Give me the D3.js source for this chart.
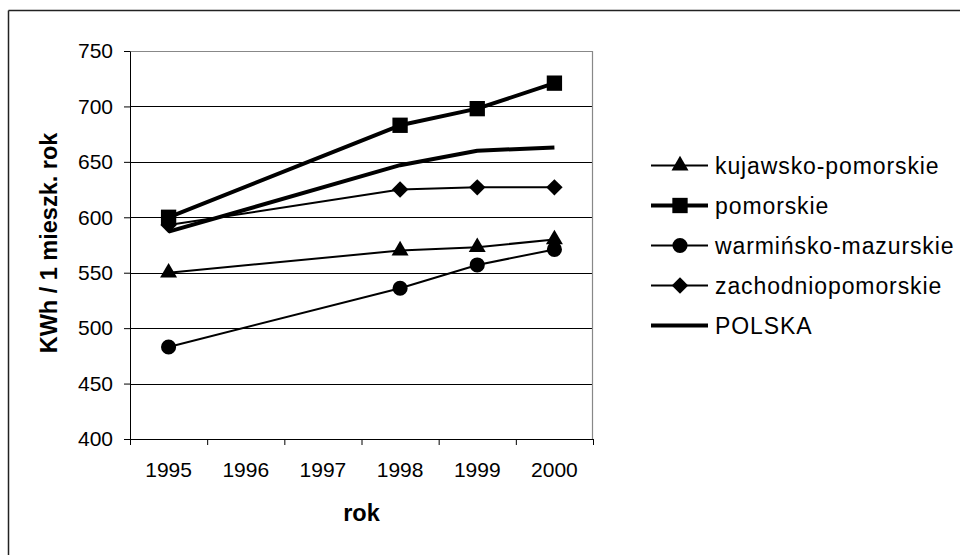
<!DOCTYPE html>
<html>
<head>
<meta charset="utf-8">
<script src="https://cdn.jsdelivr.net/npm/d3@7"></script>
<style>
  body { margin: 0; background: #fff; }
  svg { display: block; font-family: "Liberation Sans", Arial, sans-serif; }
</style>
</head>
<body>
<div id="chart"></div>
<script>
// electricity use per inhabitant, KWh per year
var years = ["1995", "1996", "1997", "1998", "1999", "2000"];
var yTicks = [400, 450, 500, 550, 600, 650, 700, 750];

var seriesNames = ["kujawsko-pomorskie", "pomorskie", "warmińsko-mazurskie", "zachodniopomorskie", "POLSKA"];
var kujawsko = [550, null, null, 570, 573, 580];
var pomorskie = [600, null, null, 683, 698, 721];
var warminsko = [483, null, null, 536, 557, 571];
var zachodnio = [593, null, null, 625, 627, 627];
var polska = [587, null, null, 647, 660, 663];

var svgWidth = 960, svgHeight = 555;
var margin = { top: 51, left: 130, right: 367, bottom: 116 };
var width = svgWidth - margin.left - margin.right;
var height = svgHeight - margin.top - margin.bottom;

var svg = d3.select("#chart").append("svg")
  .attr("width", svgWidth)
  .attr("height", svgHeight);

// outer frame (only top and left are inside the picture)
svg.append("line").attr("x1", 8.5).attr("x2", 960).attr("y1", 10.5).attr("y2", 10.5)
  .attr("stroke", "#222").attr("stroke-width", 1.5);
svg.append("line").attr("x1", 8.5).attr("x2", 8.5).attr("y1", 10.5).attr("y2", 555)
  .attr("stroke", "#222").attr("stroke-width", 1.5);

var g = svg.append("g").attr("transform", `translate(${margin.left},${margin.top})`);

var x = d3.scaleBand().domain(years).range([0, width]).padding(0);
var xEdge = d3.scaleLinear().domain([0, years.length]).range([0, width]);
var y = d3.scaleLinear().domain([400, 750]).range([height, 0]);

// gridlines
g.append("g").selectAll("line")
  .data(yTicks.filter(d => d > 400 && d < 750))
  .join("line")
  .attr("x1", 0).attr("x2", width)
  .attr("y1", d => Math.round(y(d)) + 0.5).attr("y2", d => Math.round(y(d)) + 0.5)
  .attr("stroke", "#000").attr("stroke-width", 1);

// plot border top / right
g.append("path")
  .attr("d", `M0,0.5H${width - 0.5}V${height}`)
  .attr("fill", "none").attr("stroke", "#888").attr("stroke-width", 1.2);

// y axis
var yAxis = g.append("g")
  .call(d3.axisLeft(y).tickValues(yTicks).tickSize(6).tickSizeOuter(0).tickPadding(11));
yAxis.selectAll("text").attr("font-size", 21).attr("fill", "#000")
  .attr("font-family", "Liberation Sans, Arial, sans-serif");
yAxis.selectAll("line, path").attr("stroke", "#000");

// x axis: ticks at category edges, labels centred
var xTickAxis = g.append("g").attr("transform", `translate(0,${height})`)
  .call(d3.axisBottom(xEdge).tickValues(d3.range(years.length + 1)).tickSize(6).tickSizeOuter(0).tickFormat(""));
xTickAxis.selectAll("line, path").attr("stroke", "#000");

var xLabels = g.append("g").attr("transform", `translate(0,${height})`)
  .call(d3.axisBottom(x).tickSize(0).tickPadding(23));
xLabels.select(".domain").remove();
xLabels.selectAll("text").attr("font-size", 21).attr("fill", "#000")
  .attr("font-family", "Liberation Sans, Arial, sans-serif");

// axis titles
svg.append("text")
  .attr("transform", "translate(57,243) rotate(-90)")
  .attr("text-anchor", "middle")
  .attr("font-size", 23.5).attr("font-weight", "bold")
  .text("KWh / 1 mieszk. rok");

svg.append("text")
  .attr("x", margin.left + width / 2).attr("y", 521)
  .attr("text-anchor", "middle")
  .attr("font-size", 23.5).attr("font-weight", "bold")
  .text("rok");

// series
var seriesValues = [kujawsko, pomorskie, warminsko, zachodnio, polska];
var lineWidths = [2, 4, 2, 2, 4];
var symbols = [
  { type: d3.symbolTriangle, size: 125, rot: 0 },
  { type: d3.symbolSquare, size: 235, rot: 0 },
  { type: d3.symbolCircle, size: 180, rot: 0 },
  { type: d3.symbolSquare, size: 135, rot: 45 },
  null
];

var cx = d => x(d) + x.bandwidth() / 2;

var line = d3.line()
  .x(d => cx(d.year))
  .y(d => y(d.value));

seriesNames.forEach(function(name, i) {
  var pts = years.map((yr, j) => ({ year: yr, value: seriesValues[i][j] }))
    .filter(d => d.value !== null);

  g.append("path")
    .datum(pts)
    .attr("d", line)
    .attr("fill", "none")
    .attr("stroke", "#000")
    .attr("stroke-width", lineWidths[i])
    .attr("stroke-linejoin", "round");

  if (symbols[i]) {
    var sym = d3.symbol().type(symbols[i].type).size(symbols[i].size);
    g.append("g").selectAll("path")
      .data(pts)
      .join("path")
      .attr("d", sym)
      .attr("transform", d => `translate(${cx(d.year)},${y(d.value)}) rotate(${symbols[i].rot})`)
      .attr("fill", "#000");
  }
});

// legend
var legend = svg.append("g");
seriesNames.forEach(function(name, i) {
  var ly = 165.5 + i * 40;
  legend.append("line")
    .attr("x1", 651).attr("x2", 708).attr("y1", ly).attr("y2", ly)
    .attr("stroke", "#000").attr("stroke-width", lineWidths[i]);
  if (symbols[i]) {
    legend.append("path")
      .attr("d", d3.symbol().type(symbols[i].type).size(symbols[i].size))
      .attr("transform", `translate(680,${ly}) rotate(${symbols[i].rot})`)
      .attr("fill", "#000");
  }
  legend.append("text")
    .attr("x", 715).attr("y", ly).attr("dy", "0.35em")
    .attr("font-size", 23)
    .attr("letter-spacing", "0.9px")
    .text(name);
});
</script>
</body>
</html>
